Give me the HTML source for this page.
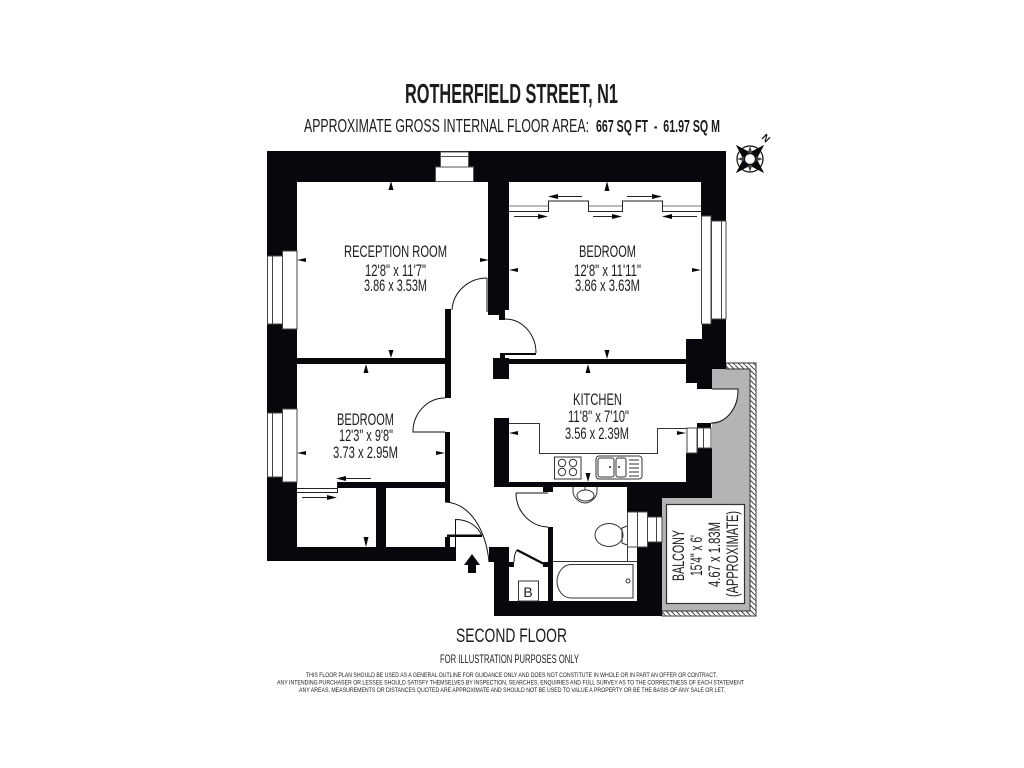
<!DOCTYPE html>
<html><head><meta charset="utf-8"><style>
html,body{margin:0;padding:0;background:#fff}svg{display:block}
text{font-family:"Liberation Sans",sans-serif;fill:#1c1c20}
</style></head><body>
<svg xmlns="http://www.w3.org/2000/svg" width="1024" height="768" viewBox="0 0 1024 768">
<rect width="1024" height="768" fill="#fff"/>
<!-- balcony -->
<path d="M712 369H750V611H662V498H712Z" fill="#b4b4b6"/>
<path d="M712 389H738A26 33 0 0 1 712 422Z" fill="#fff"/>
<path d="M712 389H738A26 33 0 0 1 711 423" fill="none" stroke="#111" stroke-width="1"/>
<rect x="666.500" y="504.500" width="78" height="99" fill="#fff" stroke="#333" stroke-width="1.200"/>
<defs><pattern id="h" width="5" height="5" patternUnits="userSpaceOnUse"><rect width="5" height="5" fill="#fff"/><path d="M0 0L5 5" stroke="#444" stroke-width="1"/></pattern></defs>
<path d="M726 363H756V616H662V611H750V369H726Z" fill="url(#h)" stroke="#333" stroke-width="1"/>
<!-- walls -->
<g fill="#08080c">
<rect x="267" y="151" width="459" height="31"/>
<rect x="701" y="182" width="25" height="34"/><rect x="711" y="216" width="15" height="5"/>
<rect x="267" y="182" width="30" height="69"/><rect x="267" y="251" width="15" height="5"/>
<path d="M267 324H282V329H297V409H282V413H267Z"/>
<path d="M267 477H282V482H297V547H445V537H450V547H455V520H456V561H267Z"/>
<rect x="297" y="358" width="148" height="6"/>
<path d="M488 182H509V310H505V320H499V315H488Z"/>
<rect x="445" y="309" width="6" height="89"/>
<rect x="445" y="432" width="5" height="70"/>
<rect x="337" y="482" width="108" height="6"/>
<rect x="376" y="482" width="10" height="65"/>
<path d="M702 324H711V319H726V369H712V389H697V383H686V339H702Z"/>
<rect x="509" y="359" width="177" height="5"/>
<path d="M493 358H500V353H536V355H505V358H509V379H493Z"/>
<rect x="494" y="418" width="15" height="69"/>
<rect x="494" y="482" width="133" height="5"/>
<rect x="543" y="487" width="10" height="5"/>
<rect x="697" y="423" width="14" height="5"/>
<path d="M686 453H697V448H712V498H662V517H647V512H627V482H686Z"/>
<path d="M647 542H662V616H494V562H489V547H509V562H514V567H509V601H548V567H543V562H548V527H553V601H637V547H647Z"/>
<rect x="447" y="534.500" width="35" height="2.500"/>
</g>
<!-- chimney -->
<g fill="#fff" stroke="#555" stroke-width="1"><rect x="440.500" y="152" width="28" height="15"/><path d="M440 156.500H469"/><rect x="435.500" y="167" width="38" height="14.500"/></g>
<!-- windows -->
<g fill="#fff" stroke="#444" stroke-width="1">
<rect x="282.500" y="251" width="14.500" height="78"/><rect x="267.500" y="256" width="15" height="68"/><path d="M272.500 256V324"/>
<rect x="282.500" y="409" width="14.500" height="73"/><rect x="267.500" y="413" width="15" height="64"/><path d="M272.500 413V477"/>
<rect x="701.500" y="216" width="9.500" height="108"/><rect x="711.500" y="221" width="14.500" height="98"/><path d="M721.500 221V319"/>
<rect x="687" y="428" width="10" height="25"/><rect x="697.500" y="428" width="13.500" height="20"/><path d="M703.500 428V448"/>
<rect x="627.500" y="512" width="20" height="35"/><path d="M637.500 512V547"/><rect x="647.500" y="517" width="14.500" height="25"/><path d="M656.500 517V542"/>
</g>
<!-- sliders -->
<g fill="none" stroke="#777" stroke-width="1"><path d="M509 206H548M588 206H622M662 206H701"/></g>
<g fill="none" stroke="#222" stroke-width="1">
<path d="M509 211.500H548.500V201H588.500V211.500H622.500V201H662.500V211.500H701"/>
<path d="M297 488.500H337M297 492.500H337.500V482"/>
</g>
<g stroke="#222" stroke-width="1"><path d="M552 196.500H582M627 196.500H658M514 216.500H545M593 216.500H618M666 216.500H697M340 478.500H371M302 497.500H333"/></g>
<g fill="#08080c"><path d="M548 196.500L558 194V199ZM662 196.500L652 194V199ZM548 216.500L538 214V219ZM622 216.500L612 214V219ZM662 216.500L672 214V219ZM336 478.500L346 476V481ZM337 497.500L327 495V500Z"/></g>
<!-- doors -->
<g fill="none" stroke="#111" stroke-width="1">
<path d="M487 278V312"/><path d="M487 278A35 34 0 0 0 452 310"/>
<path d="M505 319A31 34 0 0 1 536 353"/>
<path d="M445 398A32 34 0 0 0 413 432H445"/>
<path d="M445 502C470 503 486 530 489 562"/>
<path d="M455.500 536V519.500C468 519.500 478 526 482 536"/>
<path d="M516 493H548"/><path d="M516 493A33 34 0 0 0 548 527"/>
<path d="M514 562Q514 554 517 550"/>
</g>
<path d="M517 550L544 564" stroke="#08080c" stroke-width="2.200"/>
<path d="M464 565L472 554L480 565H476V573H468V565Z" fill="#08080c"/>
<!-- dimension ticks -->
<g fill="#08080c">
<path d="M391 181L388.500 190H393.500ZM391 358L388.500 350H393.500ZM297 260L306 258V262ZM489 260L480 258V262Z"/>
<path d="M366 364L363.500 373H368.500ZM366 547L363.500 537H368.500ZM297 453L306 451V455ZM445 453L436 451V455Z"/>
<path d="M607 181L604.500 191H609.500ZM607 359L604.500 350H609.500ZM509 270L518 268V272ZM701 270L692 268V272Z"/>
<path d="M588 364L585.500 373H590.500ZM588 482L585.500 473H590.500ZM509 433L518 431V435ZM686 433L677 431V435Z"/>
</g>
<!-- kitchen fittings -->
<g fill="none" stroke="#333" stroke-width="1">
<path d="M509 423.500H539.500V453.500H657.500V428.500H687"/>
<rect x="554.500" y="457" width="26.500" height="22"/>
<circle cx="562" cy="463" r="3.700"/><circle cx="573" cy="463" r="3.700"/><circle cx="562" cy="472" r="3.700"/><circle cx="573" cy="472" r="3.700"/>
<rect x="596" y="456" width="46" height="23" rx="3"/>
<rect x="598" y="458" width="16" height="19" rx="2"/><rect x="616" y="458" width="10" height="19" rx="2"/>
<path d="M629 460H639M629 464H639M629 468H639M629 472H639M629 476H639"/>
<!-- basin -->
<path d="M573 487V491C573 498 580 503 585 503C590 503 597 498 597 491V487"/>
<ellipse cx="585.500" cy="495.500" rx="8.500" ry="5.500"/>
<path d="M585 487V490"/>
<!-- wc -->
<ellipse cx="609" cy="535" rx="14" ry="11.500" fill="#fff"/>
<path d="M627 526L622 528V543L627 545M627.500 547V561"/>
<!-- bath -->
<path d="M553 561.500H637"/>
<path d="M571 564.500H633V598H571C563 598 557 590 557 581.500C557 573 563 564.500 571 564.500Z"/>
<circle cx="628" cy="581" r="2"/>
<rect x="518.500" y="581" width="20" height="20"/>
</g>
<circle cx="610" cy="467" r="1" fill="#222"/><circle cx="619" cy="467" r="1" fill="#222"/>
<!-- compass -->
<g transform="translate(750 159)">
<circle r="13" fill="#fff" stroke="#111" stroke-width="1.200"/>
<g transform="rotate(45)" fill="#08080c"><path d="M0 -20L5 -4H-5ZM0 20L5 4H-5ZM-20 0L-4 5V-5ZM20 0L4 5V-5Z"/></g>
<path d="M0 -13L3 -4H-3ZM0 13L3 4H-3ZM-13 0L-4 3V-3ZM13 0L4 3V-3Z" fill="#444"/>
<circle r="5.500" fill="#fff" stroke="#111" stroke-width="1.200"/>
<text x="0" y="0" font-size="10" font-weight="bold" transform="translate(13.500 -18.500) rotate(45)" text-anchor="middle" style="fill:#111">N</text>
</g>
<!-- text -->
<g>
<text x="405" y="103" font-size="28" font-weight="bold" textLength="213" lengthAdjust="spacingAndGlyphs">ROTHERFIELD STREET, N1</text>
<text x="304" y="132" font-size="18.500" textLength="285" lengthAdjust="spacingAndGlyphs">APPROXIMATE GROSS INTERNAL FLOOR AREA:</text>
<text x="596" y="132" font-size="17.500" font-weight="bold" textLength="124" lengthAdjust="spacingAndGlyphs">667 SQ FT &#160;- &#160;61.97 SQ M</text>
<text x="344" y="257" font-size="16.500" textLength="103" lengthAdjust="spacingAndGlyphs">RECEPTION ROOM</text>
<text x="365" y="276" font-size="16.500" textLength="61" lengthAdjust="spacingAndGlyphs">12'8" x 11'7"</text>
<text x="364" y="291" font-size="16.500" textLength="63" lengthAdjust="spacingAndGlyphs">3.86 x 3.53M</text>
<text x="579" y="257" font-size="16.500" textLength="57" lengthAdjust="spacingAndGlyphs">BEDROOM</text>
<text x="574" y="276" font-size="16.500" textLength="67" lengthAdjust="spacingAndGlyphs">12'8" x 11'11"</text>
<text x="575" y="291" font-size="16.500" textLength="65" lengthAdjust="spacingAndGlyphs">3.86 x 3.63M</text>
<text x="337" y="425" font-size="16.500" textLength="57" lengthAdjust="spacingAndGlyphs">BEDROOM</text>
<text x="339" y="441" font-size="16.500" textLength="54" lengthAdjust="spacingAndGlyphs">12'3" x 9'8"</text>
<text x="333" y="458" font-size="16.500" textLength="65" lengthAdjust="spacingAndGlyphs">3.73 x 2.95M</text>
<text x="573" y="405" font-size="16.500" textLength="49" lengthAdjust="spacingAndGlyphs">KITCHEN</text>
<text x="568" y="422" font-size="16.500" textLength="61" lengthAdjust="spacingAndGlyphs">11'8" x 7'10"</text>
<text x="565" y="439" font-size="16.500" textLength="64" lengthAdjust="spacingAndGlyphs">3.56 x 2.39M</text>
<text transform="translate(684 581) rotate(-90)" font-size="16.500" textLength="51" lengthAdjust="spacingAndGlyphs">BALCONY</text>
<text transform="translate(702 576) rotate(-90)" font-size="16.500" textLength="41" lengthAdjust="spacingAndGlyphs">15'4" x 6'</text>
<text transform="translate(720 587) rotate(-90)" font-size="16.500" textLength="65" lengthAdjust="spacingAndGlyphs">4.67 x 1.83M</text>
<text transform="translate(738 597) rotate(-90)" font-size="16.500" textLength="86" lengthAdjust="spacingAndGlyphs">(APPROXIMATE)</text>
<text x="456" y="642" font-size="19.500" textLength="111" lengthAdjust="spacingAndGlyphs">SECOND FLOOR</text>
<text x="440" y="663" font-size="11.500" textLength="139" lengthAdjust="spacingAndGlyphs">FOR ILLUSTRATION PURPOSES ONLY</text>
<text x="306" y="677" font-size="6.200" textLength="411" lengthAdjust="spacingAndGlyphs">THIS FLOOR PLAN SHOULD BE USED AS A GENERAL OUTLINE FOR GUIDANCE ONLY AND DOES NOT CONSTITUTE IN WHOLE OR IN PART AN OFFER OR CONTRACT.</text>
<text x="277" y="684.500" font-size="6.200" textLength="467" lengthAdjust="spacingAndGlyphs">ANY INTENDING PURCHASER OR LESSEE SHOULD SATISFY THEMSELVES BY INSPECTION, SEARCHES, ENQUIRIES AND FULL SURVEY AS TO THE CORRECTNESS OF EACH STATEMENT</text>
<text x="299" y="692" font-size="6.200" textLength="426" lengthAdjust="spacingAndGlyphs">ANY AREAS, MEASUREMENTS OR DISTANCES QUOTED ARE APPROXIMATE AND SHOULD NOT BE USED TO VALUE A PROPERTY OR BE THE BASIS OF ANY SALE OR LET.</text>
<text x="528" y="597" font-size="14" text-anchor="middle">B</text>
</g>
</svg>
</body></html>
